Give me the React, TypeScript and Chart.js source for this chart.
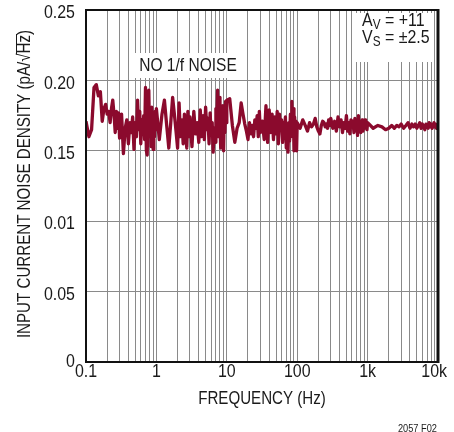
import React, { useEffect, useRef } from 'react';
import { Chart, registerables } from 'chart.js';

Chart.register(...registerables);

// ---- DATA ----
const FREQ_A = [0.10, 0.11, 0.12, 0.13, 0.14, 0.15, 0.16, 0.17, 0.18, 0.19, 0.20, 0.21, 0.22, 0.23, 0.24, 0.25, 0.26, 0.27, 0.28, 0.29, 0.30,
  0.32, 0.34, 0.36, 0.38, 0.40, 0.42, 0.44, 0.46, 0.48, 0.50, 0.52, 0.54, 0.56, 0.58, 0.60, 0.62, 0.64, 0.66, 0.68, 0.70,
  0.72, 0.74, 0.76, 0.78, 0.80, 0.82, 0.84, 0.86, 0.88, 0.90, 0.92, 0.94, 0.96, 0.98];
const NOISE_A = [0.171, 0.160, 0.165, 0.195, 0.197, 0.189, 0.192, 0.171, 0.180, 0.183, 0.176, 0.178, 0.170, 0.180, 0.186, 0.176, 0.163, 0.178, 0.166, 0.177, 0.159,
  0.176, 0.148, 0.166, 0.172, 0.155, 0.170, 0.163, 0.174, 0.151, 0.170, 0.160, 0.186, 0.165, 0.178, 0.155, 0.172, 0.162, 0.175, 0.158, 0.195,
  0.150, 0.147, 0.180, 0.193, 0.160, 0.176, 0.153, 0.181, 0.168, 0.151, 0.172, 0.160, 0.178, 0.165];

const FREQ_B = [1.0, 1.1, 1.2, 1.3, 1.4, 1.5, 1.6, 1.7, 1.8, 1.9, 2.0, 2.1, 2.2, 2.3, 2.4, 2.5, 2.6, 2.7, 2.8, 2.9, 3.0,
  3.2, 3.4, 3.6, 3.8, 4.0, 4.2, 4.4, 4.6, 4.8, 5.0, 5.2, 5.4, 5.6, 5.8, 6.0, 6.2, 6.4, 6.6, 6.8, 7.0,
  7.2, 7.4, 7.6, 7.8, 8.0, 8.2, 8.4, 8.6, 8.8, 9.0, 9.2, 9.4, 9.6, 9.8];
const NOISE_B = [0.180, 0.158, 0.176, 0.186, 0.168, 0.152, 0.170, 0.188, 0.176, 0.164, 0.152, 0.184, 0.160, 0.172, 0.155, 0.176, 0.163, 0.152, 0.178, 0.160, 0.174,
  0.153, 0.178, 0.162, 0.170, 0.156, 0.179, 0.160, 0.175, 0.158, 0.181, 0.165, 0.173, 0.155, 0.177, 0.161, 0.170, 0.149, 0.166, 0.156, 0.180,
  0.172, 0.193, 0.160, 0.188, 0.168, 0.152, 0.178, 0.158, 0.182, 0.150, 0.176, 0.163, 0.185, 0.170];

const FREQ_C = [10, 11, 12, 13, 14, 15, 16, 17, 18, 19, 20, 21, 22, 23, 24, 25, 26, 27, 28, 29, 30,
  32, 34, 36, 38, 40, 42, 44, 46, 48, 50, 52, 54, 56, 58, 60, 62, 64, 66, 68, 70,
  72, 74, 76, 78, 80, 82, 84, 86, 88, 90, 92, 94, 96, 98];
const NOISE_C = [0.186, 0.187, 0.168, 0.156, 0.166, 0.170, 0.184, 0.176, 0.169, 0.164, 0.158, 0.170, 0.162, 0.168, 0.160, 0.172, 0.166, 0.175, 0.160, 0.178, 0.163,
  0.171, 0.158, 0.182, 0.156, 0.179, 0.163, 0.176, 0.158, 0.174, 0.162, 0.178, 0.155, 0.176, 0.165, 0.172, 0.156, 0.170, 0.160, 0.174, 0.152,
  0.168, 0.149, 0.170, 0.157, 0.176, 0.164, 0.185, 0.160, 0.180, 0.150, 0.174, 0.158, 0.171, 0.150];

const FREQ_D = [100, 110, 120, 130, 140, 150, 160, 170, 180, 190, 200, 210, 220, 230, 240, 250, 260, 270, 280, 290, 300,
  320, 340, 360, 380, 400, 420, 440, 460, 480, 500, 520, 540, 560, 580, 600, 620, 640, 660, 680, 700,
  720, 740, 760, 780, 800, 820, 840, 860, 880, 900, 920, 940, 960, 980];
const NOISE_D = [0.170, 0.166, 0.172, 0.168, 0.164, 0.170, 0.167, 0.169, 0.173, 0.167, 0.164, 0.162, 0.168, 0.171, 0.170, 0.167, 0.169, 0.166, 0.172, 0.168, 0.173,
  0.166, 0.171, 0.164, 0.174, 0.167, 0.172, 0.163, 0.170, 0.166, 0.175, 0.164, 0.170, 0.162, 0.172, 0.167, 0.171, 0.163, 0.173, 0.166, 0.170,
  0.161, 0.175, 0.165, 0.171, 0.163, 0.168, 0.172, 0.164, 0.170, 0.166, 0.172, 0.167, 0.169, 0.165];

const FREQ_E = [1000, 1200, 1400, 1600, 1800, 2000, 2200, 2400, 2600, 2800, 3000, 3250, 3500, 3750, 4000, 4250, 4500, 4750, 5000,
  5250, 5500, 5750, 6000, 6250, 6500, 6750, 7000, 7250, 7500, 7750, 8000, 8250, 8500, 8750, 9000, 9250, 9500, 9750, 10000];
const NOISE_E = [0.170, 0.166, 0.168, 0.167, 0.165, 0.166, 0.168, 0.166, 0.168, 0.167, 0.169, 0.166, 0.168, 0.170, 0.166, 0.169, 0.167, 0.169, 0.166,
  0.168, 0.170, 0.166, 0.169, 0.167, 0.165, 0.169, 0.168, 0.166, 0.170, 0.167, 0.169, 0.166, 0.168, 0.170, 0.167, 0.169, 0.166, 0.168, 0.168];

const Y_TICK_VALUES = [0, 0.05, 0.1, 0.15, 0.2, 0.25];
const Y_TICK_LABELS = ['0', '0.05', '0.01', '0.15', '0.20', '0.25'];
const X_DECADES = [0.1, 1, 10, 100, 1000, 10000];
const X_TICK_LABELS = ['0.1', '1', '10', '100', '1k', '10k'];
const X_TITLE = 'FREQUENCY (Hz)';
const Y_TITLE_MAIN = 'INPUT CURRENT NOISE DENSITY (pA/\u221A';
const Y_TITLE_HZ = 'Hz';
const Y_TITLE_END = ')';
const NOTE_TEXT = 'NO 1/f NOISE';
const FIG_ID = '2057 F02';

const FONT_FAMILY = '"Liberation Sans", Arial, sans-serif';
const NARROW = 0.84;
const TEXT_COLOR = '#1a1a1a';
const LINE_COLOR = '#8b0a2d';
const GRID_COLOR = '#8a8a8a';

function buildPoints() {
  const segs: [number[], number[]][] = [
    [FREQ_A, NOISE_A], [FREQ_B, NOISE_B], [FREQ_C, NOISE_C], [FREQ_D, NOISE_D], [FREQ_E, NOISE_E],
  ];
  const pts: { x: number; y: number }[] = [];
  segs.forEach(([f, v]) => f.forEach((fx, i) => pts.push({ x: fx, y: v[i] })));
  return pts;
}

function xGridTicks() {
  const ticks: { value: number }[] = [];
  for (let d = 0; d < X_DECADES.length - 1; d++) {
    for (let m = 1; m <= 9; m++) ticks.push({ value: Number((X_DECADES[d] * m).toPrecision(6)) });
  }
  ticks.push({ value: X_DECADES[X_DECADES.length - 1] });
  return ticks;
}

// draw condensed text; returns drawn width
function nText(ctx: CanvasRenderingContext2D, text: string, x: number, y: number, size: number,
  align: CanvasTextAlign = 'left', baseline: CanvasTextBaseline = 'middle') {
  ctx.save();
  ctx.font = `${size}px ${FONT_FAMILY}`;
  ctx.textAlign = align;
  ctx.textBaseline = baseline;
  ctx.translate(x, y);
  ctx.scale(NARROW, 1);
  ctx.fillText(text, 0, 0);
  const w = ctx.measureText(text).width * NARROW;
  ctx.restore();
  return w;
}

function nWidth(ctx: CanvasRenderingContext2D, text: string, size: number) {
  ctx.save();
  ctx.font = `${size}px ${FONT_FAMILY}`;
  const w = ctx.measureText(text).width * NARROW;
  ctx.restore();
  return w;
}

const overlayPlugin = {
  id: 'overlay',
  beforeDatasetsDraw(chart: any) {
    const ctx = chart.ctx as CanvasRenderingContext2D;
    ctx.save();
    ctx.fillStyle = '#ffffff';
    ctx.fillRect(130, 53, 116, 25);
    ctx.fillRect(352, 13, 81, 49);
    ctx.restore();
  },
  afterDraw(chart: any) {
    const ctx = chart.ctx as CanvasRenderingContext2D;
    const { left, right, top, bottom } = chart.chartArea;
    const xs = chart.scales.x;
    const ys = chart.scales.y;
    ctx.save();
    // frame
    ctx.strokeStyle = '#111111';
    ctx.lineWidth = 2;
    ctx.strokeRect(left, top, right - left, bottom - top);
    ctx.lineWidth = 3;
    ctx.beginPath();
    ctx.moveTo(right, top - 1);
    ctx.lineTo(right, bottom + 1);
    ctx.stroke();

    ctx.fillStyle = TEXT_COLOR;
    // y tick labels
    Y_TICK_VALUES.forEach((v, i) => {
      const py = ys.getPixelForValue(v);
      nText(ctx, Y_TICK_LABELS[i], left - 11, Math.min(py + 3, bottom), 19, 'right');
    });
    // x tick labels
    X_DECADES.forEach((v, i) => {
      const px = xs.getPixelForValue(v);
      const w = nWidth(ctx, X_TICK_LABELS[i], 19);
      const cx = Math.min(px, 447 - w / 2);
      nText(ctx, X_TICK_LABELS[i], cx, bottom + 10, 19, 'center');
    });
    // x title
    nText(ctx, X_TITLE, (left + right) / 2, bottom + 37, 18, 'center');
    // figure id
    nText(ctx, FIG_ID, 437, 429, 11, 'right');

    // y title (rotated) with overline over Hz
    const wMain = nWidth(ctx, Y_TITLE_MAIN, 18);
    const wHz = nWidth(ctx, Y_TITLE_HZ, 18);
    const wEnd = nWidth(ctx, Y_TITLE_END, 18);
    const total = wMain + wHz + wEnd;
    ctx.save();
    ctx.translate(25, (top + bottom) / 2 - 2);
    ctx.rotate(-Math.PI / 2);
    const x0 = -total / 2;
    nText(ctx, Y_TITLE_MAIN, x0, 0, 18, 'left');
    nText(ctx, Y_TITLE_HZ, x0 + wMain, 0, 18, 'left');
    nText(ctx, Y_TITLE_END, x0 + wMain + wHz, 0, 18, 'left');
    ctx.strokeStyle = TEXT_COLOR;
    ctx.lineWidth = 1;
    ctx.beginPath();
    ctx.moveTo(x0 + wMain - 1, -8.5);
    ctx.lineTo(x0 + wMain + wHz + 1, -8.5);
    ctx.stroke();
    ctx.restore();

    // note
    nText(ctx, NOTE_TEXT, 188, 66, 18.5, 'center');

    // A_V / V_S annotation
    const drawSub = (main: string, sub: string, rest: string, x: number, y: number) => {
      let cx = x;
      cx += nText(ctx, main, cx, y, 19, 'left', 'alphabetic');
      cx += nText(ctx, sub, cx, y + 3, 14, 'left', 'alphabetic');
      nText(ctx, rest, cx, y, 19, 'left', 'alphabetic');
    };
    drawSub('A', 'V', ' = +11', 362, 26);
    drawSub('V', 'S', ' = \u00B12.5', 362, 43);
    ctx.restore();
  },
};

export default function App() {
  const canvasRef = useRef<HTMLCanvasElement | null>(null);
  useEffect(() => {
    document.body.style.margin = '0';
    const canvas = canvasRef.current;
    if (!canvas) return;
    const chart = new Chart(canvas, {
      type: 'line',
      data: {
        datasets: [
          {
            data: buildPoints(),
            borderColor: LINE_COLOR,
            borderWidth: 3.3,
            pointRadius: 0,
            tension: 0,
            fill: false,
            borderJoinStyle: 'round',
          } as any,
        ],
      },
      options: {
        animation: false,
        responsive: false,
        devicePixelRatio: 1,
        layout: { padding: { left: 0, right: 16, top: 10, bottom: 0 } },
        plugins: { legend: { display: false }, tooltip: { enabled: false } },
        scales: {
          x: {
            type: 'logarithmic',
            min: 0.1,
            max: 10000,
            afterBuildTicks: (scale: any) => { scale.ticks = xGridTicks(); },
            afterFit: (scale: any) => { scale.height = 70; },
            ticks: { display: false, autoSkip: false },
            grid: { color: GRID_COLOR, lineWidth: 1, drawTicks: false },
            border: { display: false },
          },
          y: {
            type: 'linear',
            min: 0,
            max: 0.25,
            afterFit: (scale: any) => { scale.width = 86; },
            ticks: { display: false, stepSize: 0.05 },
            grid: { color: GRID_COLOR, lineWidth: 1, drawTicks: false },
            border: { display: false },
          },
        },
      } as any,
      plugins: [overlayPlugin],
    });
    return () => chart.destroy();
  }, []);
  return (
    <div style={{ width: 454, height: 432, background: '#fff' }}>
      <canvas ref={canvasRef} width={454} height={432} style={{ display: 'block', width: 454, height: 432 }} />
    </div>
  );
}
